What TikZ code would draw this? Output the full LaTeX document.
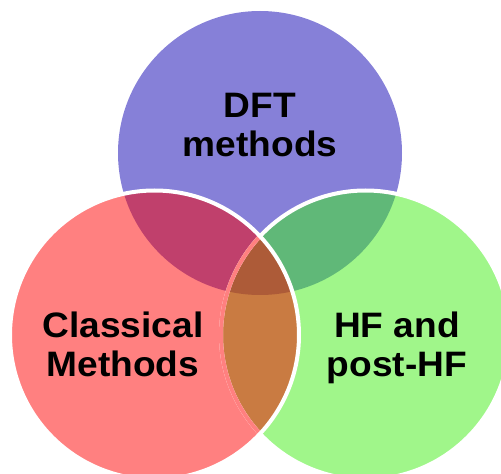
\documentclass[tikz,border=0pt]{standalone}
\usepackage{fontspec}
\setmainfont{Liberation Sans}[FakeStretch=1.05]
\usepackage{xcolor}

\begin{document}
\begin{tikzpicture}[x=0.75pt,y=0.75pt,yscale=-1,xscale=1,
  rim/.style={draw=white, line width=3pt},
  label text/.style={anchor=north, inner sep=0pt, align=center, font=\bfseries\fontsize{26.5}{29}\selectfont}]
\useasboundingbox (0,0) rectangle (501,474);
\clip (0,0) rectangle (501,474);

\coordinate (dftc) at (260,153);
\coordinate (clsc) at (154.5,335);
\coordinate (hfc) at (365.5,335);

% Circles
\fill [color={rgb, 255:red, 134; green, 128; blue, 216 }] (dftc) circle (142);
\fill [color={rgb, 255:red, 160; green, 246; blue, 138 }] (hfc) circle (144.5);
\fill [color={rgb, 255:red, 255; green, 128; blue, 128 }] (clsc) circle (144.5);
% Overlaps with DFT
\begin{scope}
\clip (dftc) circle (142);
\fill [color={rgb, 255:red, 192; green, 64; blue, 108 }] (clsc) circle (144.5);
\fill [color={rgb, 255:red, 96; green, 184; blue, 120 }] (hfc) circle (144.5);
\end{scope}
% Classical and HF overlap
\begin{scope}
\clip (clsc) circle (144.5);
\fill [color={rgb, 255:red, 201; green, 123; blue, 66 }] (hfc) circle (144.5);
\clip (dftc) circle (142);
\fill [color={rgb, 255:red, 173; green, 91; blue, 56 }] (hfc) circle (144.5);
\end{scope}
% Rims
\draw [rim] (hfc) circle (144.5);
\begin{scope}
\clip (clsc) circle (144.5);
\draw [rim, draw={rgb, 255:red, 255; green, 128; blue, 128 }] (hfc) circle (144.5);
\end{scope}
\draw [rim] (clsc) circle (144.5);

% Text Node
\draw (260,93) node [label text] (dft) {DFT\\methods};
% Text Node
\draw (123,312) node [label text] (classical) {Classical\\Methods};
% Text Node
\draw (397,312) node [label text] (hf) {HF and\\post-HF};

\end{tikzpicture}
\end{document}
